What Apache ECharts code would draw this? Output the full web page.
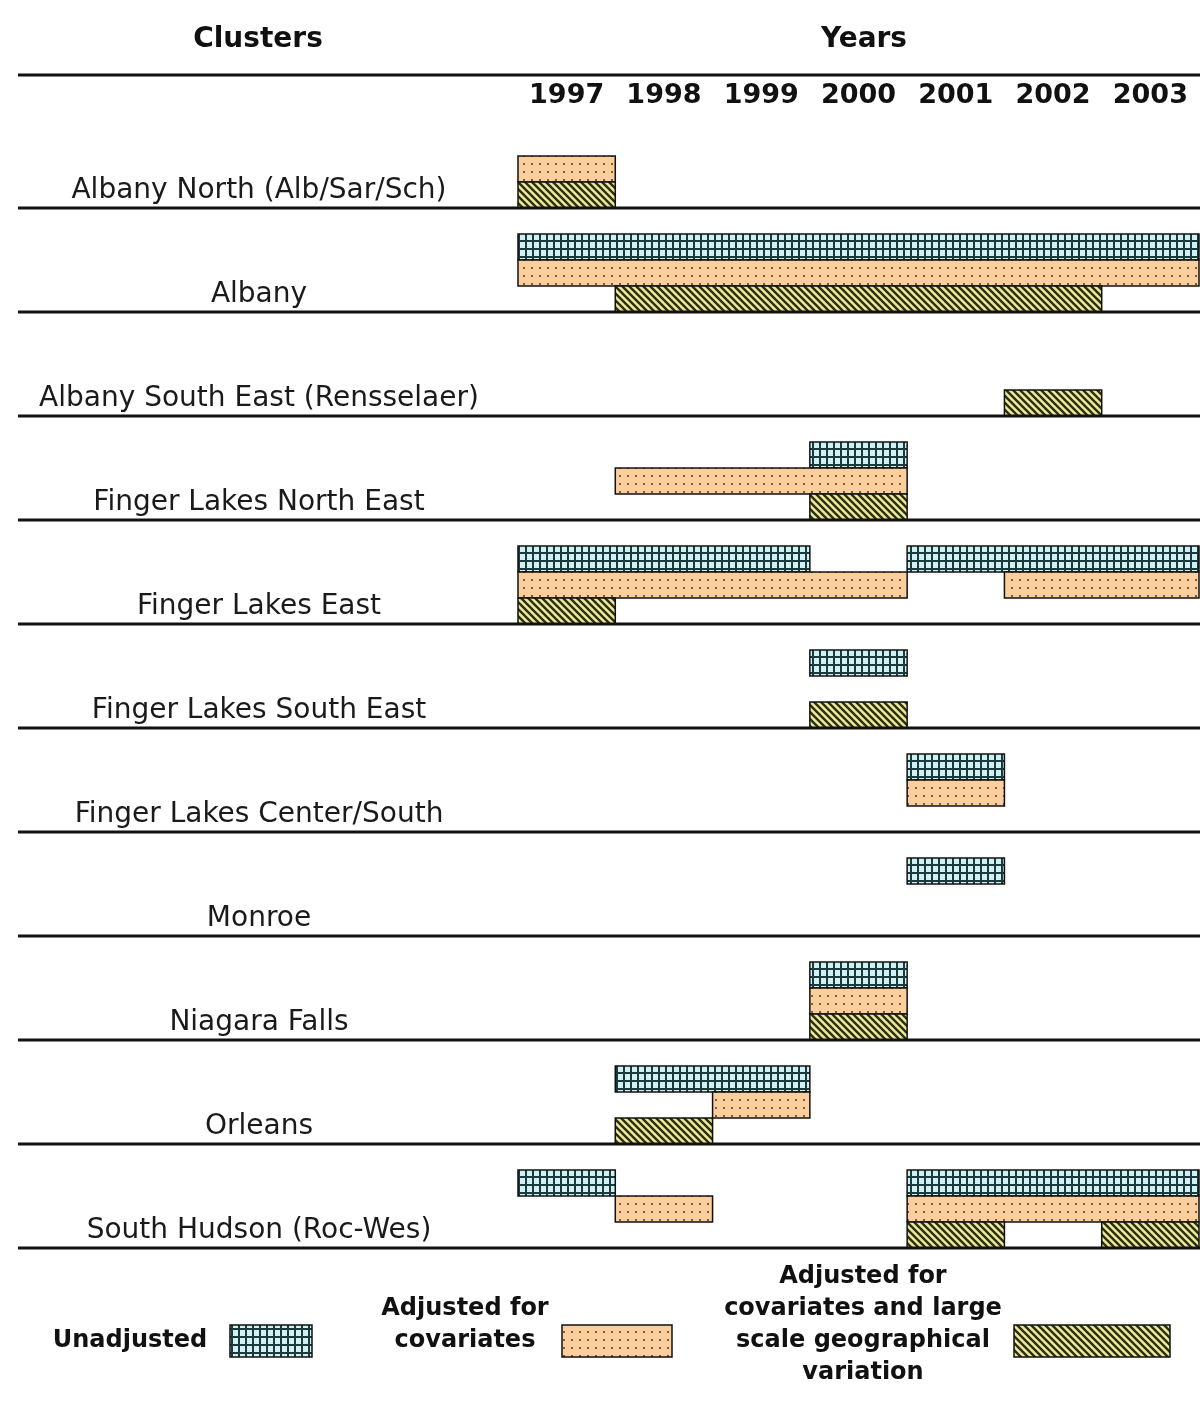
<!DOCTYPE html>
<html>
<head>
<meta charset="utf-8">
<script src="https://cdn.jsdelivr.net/npm/echarts@6/dist/echarts.min.js"></script>
<style>
html,body{margin:0;padding:0;background:#fff;}
#chart{width:1200px;height:1407px;}
</style>
</head>
<body>
<div id="chart"></div>
<script>
// ---- data ----
const years = ['1997', '1998', '1999', '2000', '2001', '2002', '2003'];
const clusters = [
  'Albany North (Alb/Sar/Sch)',
  'Albany',
  'Albany South East (Rensselaer)',
  'Finger Lakes North East',
  'Finger Lakes East',
  'Finger Lakes South East',
  'Finger Lakes Center/South',
  'Monroe',
  'Niagara Falls',
  'Orleans',
  'South Hudson (Roc-Wes)'
];
// [cluster, first year, last year]
const unadjusted = [
  ['Albany', 1997, 2003],
  ['Finger Lakes North East', 2000, 2000],
  ['Finger Lakes East', 1997, 1999],
  ['Finger Lakes East', 2001, 2003],
  ['Finger Lakes South East', 2000, 2000],
  ['Finger Lakes Center/South', 2001, 2001],
  ['Monroe', 2001, 2001],
  ['Niagara Falls', 2000, 2000],
  ['Orleans', 1998, 1999],
  ['South Hudson (Roc-Wes)', 1997, 1997],
  ['South Hudson (Roc-Wes)', 2001, 2003]
];
const covariates = [
  ['Albany North (Alb/Sar/Sch)', 1997, 1997],
  ['Albany', 1997, 2003],
  ['Finger Lakes North East', 1998, 2000],
  ['Finger Lakes East', 1997, 2000],
  ['Finger Lakes East', 2002, 2003],
  ['Finger Lakes Center/South', 2001, 2001],
  ['Niagara Falls', 2000, 2000],
  ['Orleans', 1999, 1999],
  ['South Hudson (Roc-Wes)', 1998, 1998],
  ['South Hudson (Roc-Wes)', 2001, 2003]
];
const geographical = [
  ['Albany North (Alb/Sar/Sch)', 1997, 1997],
  ['Albany', 1998, 2002],
  ['Albany South East (Rensselaer)', 2002, 2002],
  ['Finger Lakes North East', 2000, 2000],
  ['Finger Lakes East', 1997, 1997],
  ['Finger Lakes South East', 2000, 2000],
  ['Niagara Falls', 2000, 2000],
  ['Orleans', 1998, 1998],
  ['South Hudson (Roc-Wes)', 2001, 2001],
  ['South Hudson (Roc-Wes)', 2003, 2003]
];
const legendNames = ['Unadjusted', 'Adjusted for\ncovariates', 'Adjusted for\ncovariates and large\nscale geographical\nvariation'];

// ---- patterns ----
function tile(w, h, draw) {
  const c = document.createElement('canvas');
  c.width = w; c.height = h;
  draw(c.getContext('2d'));
  return { image: c, repeat: 'repeat' };
}
const patUnadj = tile(7, 8, g => {
  g.fillStyle = '#1c393b'; g.fillRect(0, 0, 7, 8);
  g.fillStyle = '#cff1f3'; g.fillRect(2, 2, 5, 6);
});
const patCov = tile(8, 8, g => {
  g.fillStyle = '#fbcf9d'; g.fillRect(0, 0, 8, 8);
  g.fillStyle = '#8a5528';
  g.fillRect(3, 3, 2, 2);
});
const patGeo = tile(7, 7, g => {
  g.fillStyle = '#eaea9a'; g.fillRect(0, 0, 7, 7);
  g.strokeStyle = '#2e2e14'; g.lineWidth = 2.4;
  g.beginPath();
  g.moveTo(-1, -1); g.lineTo(8, 8);
  g.moveTo(-8, -1); g.lineTo(1, 8);
  g.moveTo(6, -1); g.lineTo(15, 8);
  g.stroke();
});

function toData(list) {
  return list.map(d => [years.indexOf(String(d[1])), years.indexOf(String(d[2])), clusters.indexOf(d[0])]);
}

function barRenderer(slotFromBottom, fill) {
  return function (params, api) {
    const c0 = api.coord([api.value(0), api.value(2)]);
    const c1 = api.coord([api.value(1), api.value(2)]);
    const bw = api.size([1, 0])[0];
    const rh = api.size([0, 1])[1];
    const bottom = c0[1] + rh / 2;
    const sh = rh / 4;
    const x0 = c0[0] - bw / 2;
    const x1 = c1[0] + bw / 2;
    return {
      type: 'rect',
      shape: { x: x0, y: bottom - sh * slotFromBottom, width: x1 - x0, height: sh },
      style: { fill: fill, stroke: '#111', lineWidth: 1.5 }
    };
  };
}

const FONT = 'DejaVu Sans';
const labelColumn = 500;

const chart = echarts.init(document.getElementById('chart'), null, { renderer: 'canvas' });
chart.setOption({
  backgroundColor: '#ffffff',
  animation: false,
  grid: { left: 518, right: 1, top: 104, bottom: 159, containLabel: false },
  xAxis: {
    type: 'category',
    data: years,
    position: 'top',
    boundaryGap: true,
    axisLine: { show: false },
    axisTick: { show: false },
    splitLine: { show: false },
    axisLabel: { interval: 0, fontFamily: FONT, fontWeight: 'bold', fontSize: 27, color: '#111', margin: -5 }
  },
  yAxis: {
    type: 'category',
    data: clusters,
    inverse: true,
    axisLine: { show: false },
    axisTick: { show: false },
    splitLine: { show: false },
    axisLabel: {
      interval: 0,
      fontFamily: FONT, fontSize: 28, color: '#1a1a1a',
      align: 'center', margin: 259,
      verticalAlign: 'top', lineHeight: 70
    }
  },
  graphic: [
    { type: 'text', x: 258, y: 40, style: { text: 'Clusters', font: 'bold 28px "DejaVu Sans"', fill: '#111', align: 'center', verticalAlign: 'middle' } },
    { type: 'text', x: 864, y: 40, style: { text: 'Years', font: 'bold 28px "DejaVu Sans"', fill: '#111', align: 'center', verticalAlign: 'middle' } },
    { type: 'line', shape: { x1: 18, y1: 75, x2: 1200, y2: 75 }, style: { stroke: '#111', lineWidth: 3 } },
    // legend
    { type: 'text', x: 130, y: 1341, style: { text: legendNames[0], font: 'bold 24px "DejaVu Sans"', fill: '#111', align: 'center', verticalAlign: 'middle' } },
    { type: 'rect', shape: { x: 230, y: 1325, width: 82, height: 32 }, style: { fill: patUnadj, stroke: '#111', lineWidth: 1.5 } },
    { type: 'text', x: 465, y: 1325, style: { text: legendNames[1], font: 'bold 24px "DejaVu Sans"', lineHeight: 32, fill: '#111', align: 'center', verticalAlign: 'middle' } },
    { type: 'rect', shape: { x: 562, y: 1325, width: 110, height: 32 }, style: { fill: patCov, stroke: '#111', lineWidth: 1.5 } },
    { type: 'text', x: 863, y: 1325, style: { text: legendNames[2], font: 'bold 24px "DejaVu Sans"', lineHeight: 32, fill: '#111', align: 'center', verticalAlign: 'middle' } },
    { type: 'rect', shape: { x: 1014, y: 1325, width: 156, height: 32 }, style: { fill: patGeo, stroke: '#111', lineWidth: 1.5 } }
  ],
  series: [
    {
      type: 'custom', name: 'Unadjusted', renderItem: barRenderer(3, patUnadj),
      encode: { x: [0, 1], y: 2 }, data: toData(unadjusted), z: 2
    },
    {
      type: 'custom', name: 'Adjusted for covariates', renderItem: barRenderer(2, patCov),
      encode: { x: [0, 1], y: 2 }, data: toData(covariates), z: 2
    },
    {
      type: 'custom', name: 'Adjusted for covariates and large scale geographical variation', renderItem: barRenderer(1, patGeo),
      encode: { x: [0, 1], y: 2 }, data: toData(geographical), z: 2
    },
    {
      type: 'custom', name: 'separators', clip: false, silent: true, z: 5,
      encode: { x: 0, y: 1 },
      data: clusters.map((c, i) => [0, i]),
      renderItem: function (params, api) {
        const p = api.coord([0, api.value(1)]);
        const rh = api.size([0, 1])[1];
        const cs = params.coordSys;
        const y = p[1] + rh / 2;
        return {
          type: 'line',
          shape: { x1: cs.x - labelColumn, y1: y, x2: cs.x + cs.width + 1, y2: y },
          style: { stroke: '#111', lineWidth: 3 }
        };
      }
    }
  ]
});
</script>
</body>
</html>
